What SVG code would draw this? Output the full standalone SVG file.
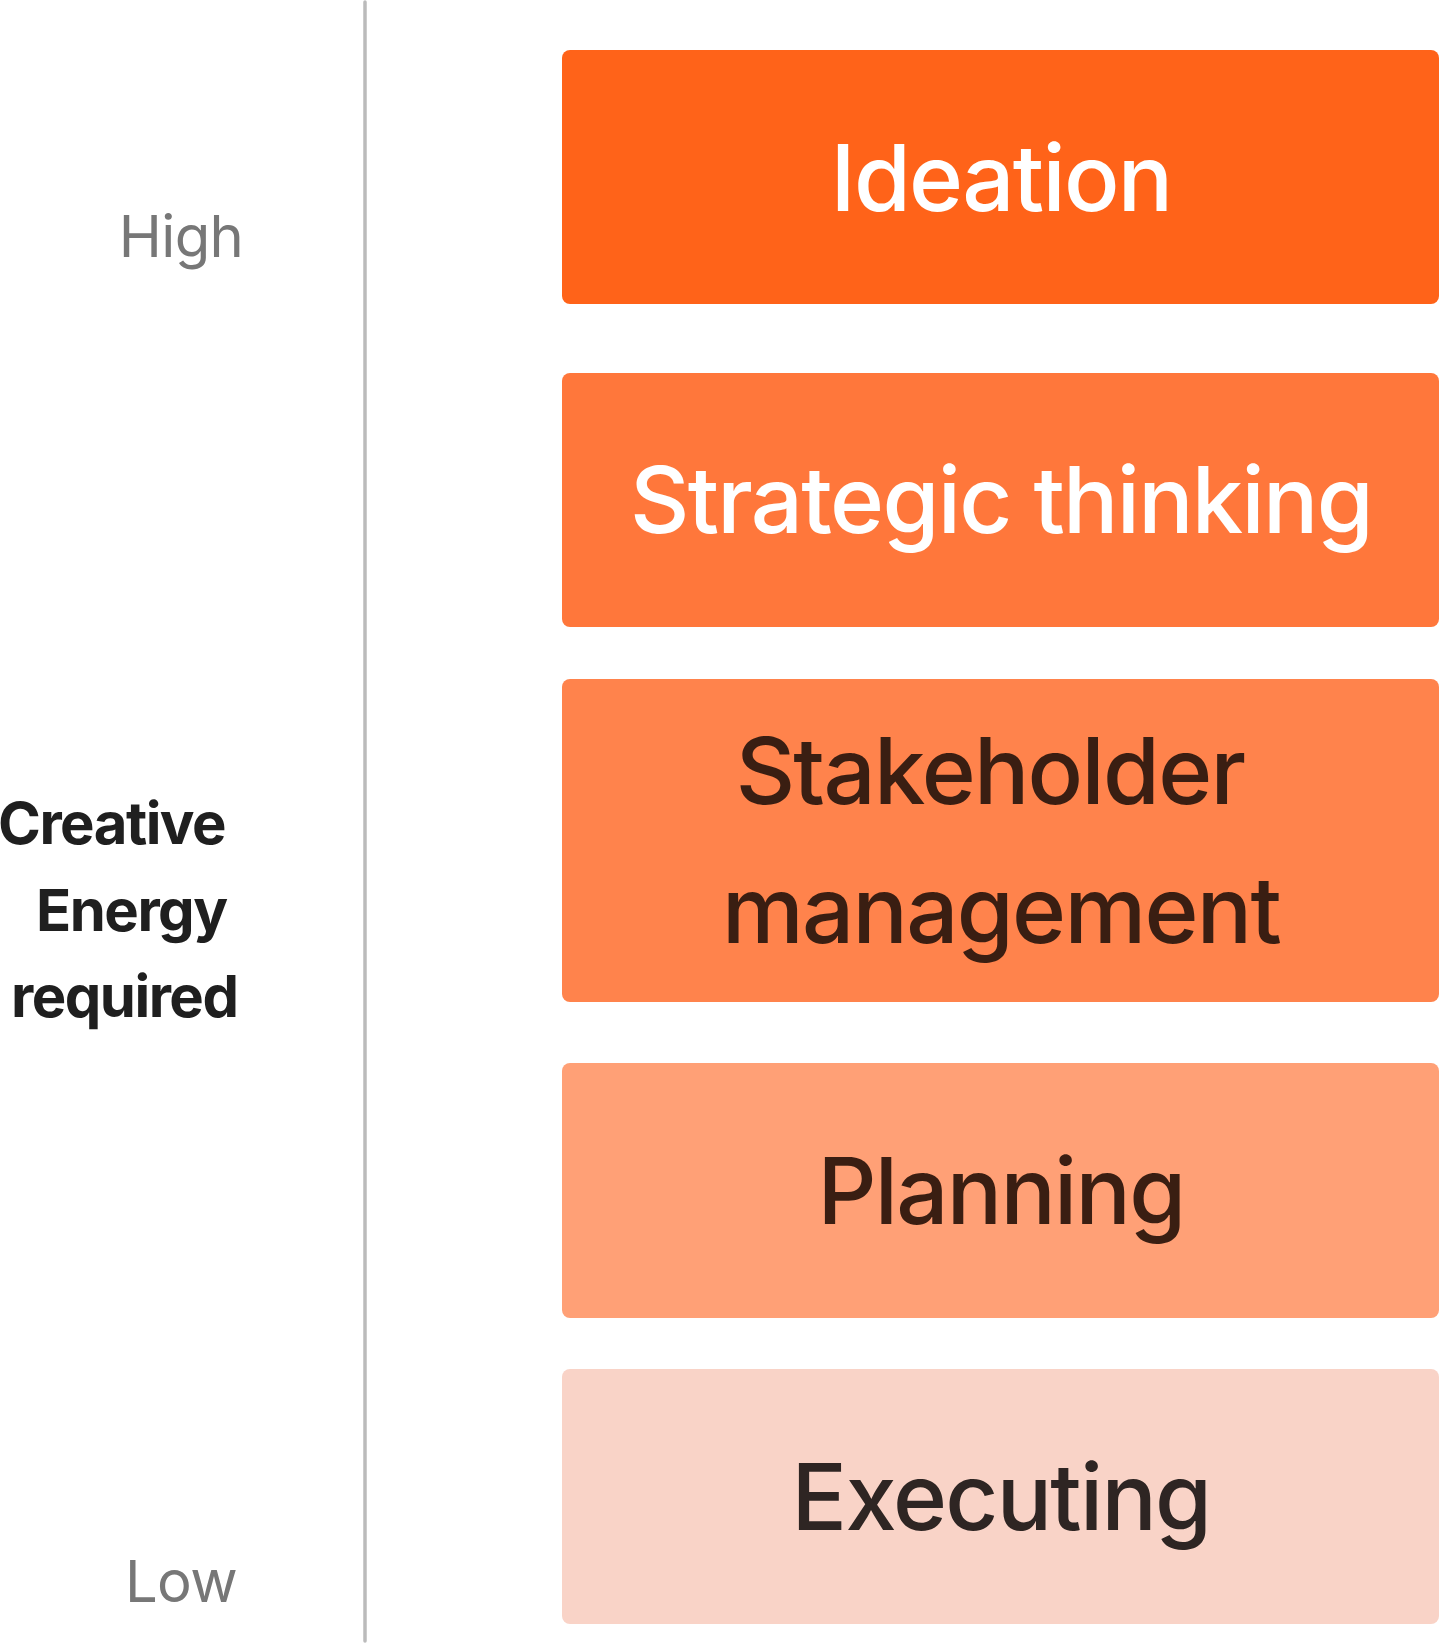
<svg xmlns="http://www.w3.org/2000/svg" width="1440" height="1643" viewBox="0 0 1440 1643">
<style>
.box{stroke:none}
.lbl{font-family:Inter,"Noto Sans","Liberation Sans",sans-serif;font-size:92px;font-weight:500;letter-spacing:-1.7px;text-anchor:middle}
.axis{font-family:Inter,"Noto Sans","Liberation Sans",sans-serif;font-size:58px;fill:#777777;letter-spacing:-0.6px}
.title{font-family:Inter,"Noto Sans","Liberation Sans",sans-serif;font-size:58px;font-weight:700;fill:#1F1F1F;letter-spacing:-1.5px}
</style>
<rect x="0" y="0" width="1440" height="1643" fill="#ffffff"/>
<g id="axis">
<line x1="365" y1="2" x2="365" y2="1641" stroke="#BBBBBB" stroke-width="3.5" stroke-linecap="round"/>
<text class="axis" x="181" y="257" text-anchor="middle">High</text>
<text class="axis" x="181" y="1602" text-anchor="middle">Low</text>
<text class="title" x="-2" y="844">Creative</text>
<text class="title" x="36" y="931">Energy</text>
<text class="title" x="11" y="1017">required</text>
</g>
<g id="connectors"></g>
<g id="ideation">
<rect class="box" x="562" y="50" width="877" height="254" rx="8" fill="#FF6319"/>
<text class="lbl" x="1001" y="211" fill="#FFFFFF">Ideation</text>
</g>
<g id="strategic">
<rect class="box" x="562" y="373" width="877" height="254" rx="8" fill="#FF773B"/>
<text class="lbl" x="1001" y="533" fill="#FFFFFF">Strategic thinking</text>
</g>
<g id="stakeholder">
<rect class="box" x="562" y="679" width="877" height="323" rx="8" fill="#FF834C"/>
<text class="lbl" x="990" y="804" fill="#3A1E12">Stakeholder</text>
<text class="lbl" x="1001" y="943" fill="#3A1E12">management</text>
</g>
<g id="planning">
<rect class="box" x="562" y="1063" width="877" height="255" rx="8" fill="#FFA076"/>
<text class="lbl" x="1001" y="1224" fill="#3A1E12">Planning</text>
</g>
<g id="executing">
<rect class="box" x="562" y="1369" width="877" height="255" rx="8" fill="#F9D3C7"/>
<text class="lbl" x="1001" y="1530" fill="#2E2523">Executing</text>
</g>
</svg>
